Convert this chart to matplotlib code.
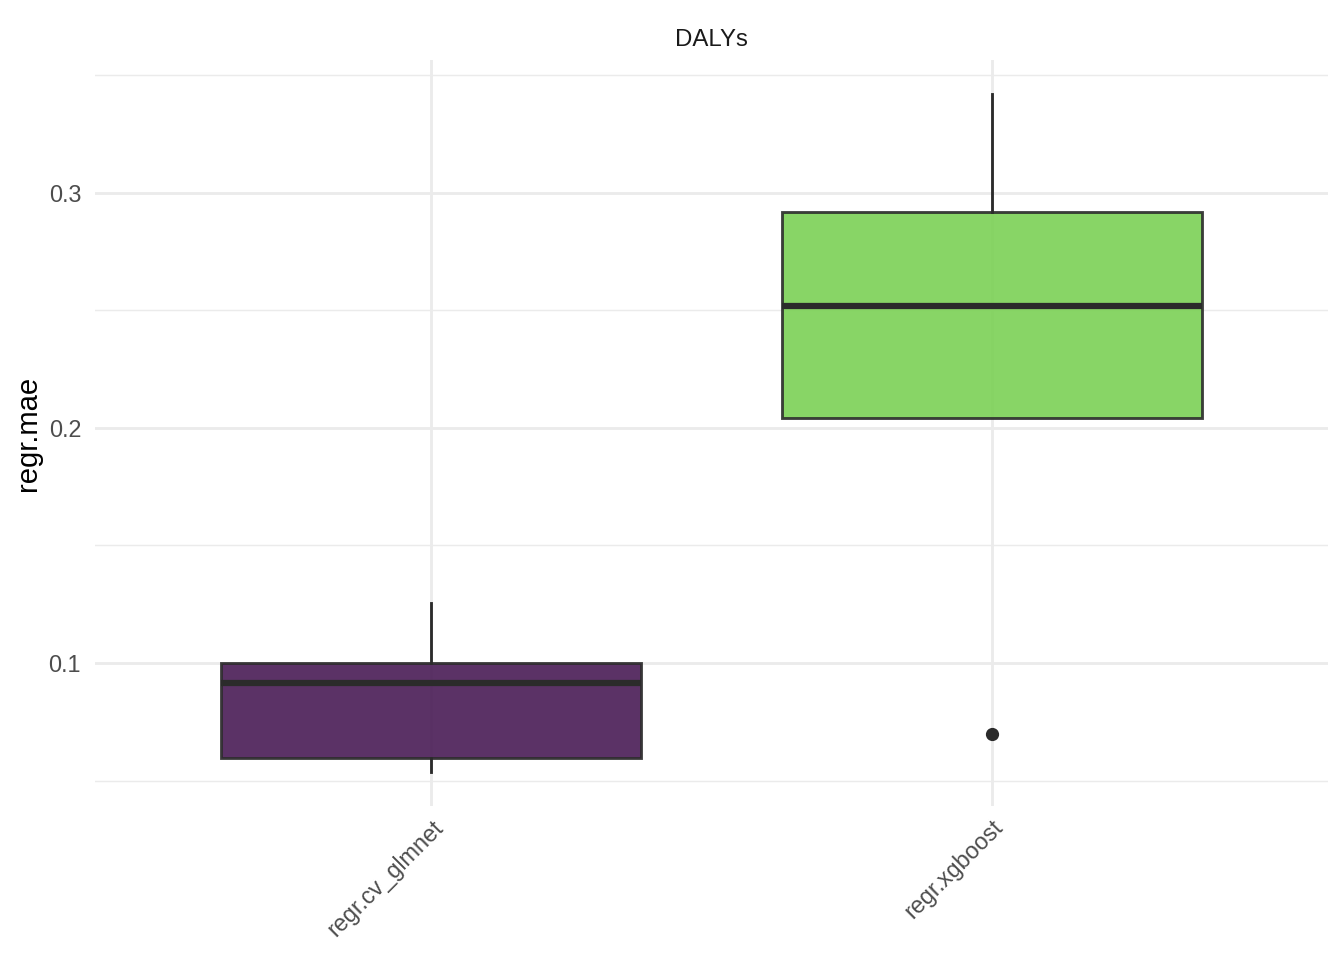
import matplotlib
matplotlib.use("Agg")
import matplotlib.pyplot as plt

plt.rcParams['font.family'] = ['Liberation Sans', 'DejaVu Sans']

# box statistics (regr.mae)
learners = ["regr.cv_glmnet", "regr.xgboost"]
whislo = [0.0536, 0.2043]
q1 = [0.0596, 0.2043]
med = [0.0915, 0.2519]
q3 = [0.1000, 0.2919]
whishi = [0.1255, 0.3421]
outliers = [[], [0.0698]]
fills = ["#491C55", "#7BD155"]

stats = []
for i, name in enumerate(learners):
    stats.append(dict(label=name, whislo=whislo[i], q1=q1[i], med=med[i],
                      q3=q3[i], whishi=whishi[i], fliers=outliers[i]))

fig = plt.figure(figsize=(1344/144, 960/144), dpi=144)
ax = fig.add_axes([95/1344, 1-806/960, (1328-95)/1344, (806-60)/960])

edge = "#2B2B2B"
lw = 0.5*72.27/25.4
bp = ax.bxp(stats, positions=[1, 2], widths=0.75, patch_artist=True,
            showcaps=False,
            boxprops=dict(edgecolor=edge, linewidth=lw),
            whiskerprops=dict(color=edge, linewidth=lw),
            medianprops=dict(color=edge, linewidth=lw*2.2, solid_capstyle='butt'),
            flierprops=dict(marker='o', markerfacecolor=edge, markeredgecolor=edge,
                            markersize=5.6, linestyle='none'))
for patch, c in zip(bp['boxes'], fills):
    patch.set_facecolor(c)
    patch.set_alpha(0.9)
    patch.set_edgecolor(edge)

ax.set_xlim(0.4, 2.6)
ax.set_ylim(0.0392, 0.3565)

# ggplot minimal-like grid
ax.set_axisbelow(True)
ax.set_yticks([0.1, 0.2, 0.3])
ax.set_yticklabels(["0.1", "0.2", "0.3"])
ax.set_yticks([0.05, 0.15, 0.25, 0.35], minor=True)
ax.set_xticks([1, 2])
ax.set_xticklabels(learners, rotation=45, ha='right', va='top', rotation_mode='anchor')
ax.grid(which='major', color='#EBEBEB', linewidth=lw)
ax.grid(which='minor', axis='y', color='#EBEBEB', linewidth=lw/2)
ax.tick_params(which='both', length=0, colors='#4D4D4D', labelsize=11.7)
ax.tick_params(axis='y', pad=7)
ax.tick_params(axis='x', pad=5)
for s in ax.spines.values():
    s.set_visible(False)

ax.set_ylabel("regr.mae", fontsize=14.6, color='black', labelpad=3.5)
ax.set_title("DALYs", fontsize=12, color='#1A1A1A', pad=7)

fig.savefig("out.png", dpi=144)
